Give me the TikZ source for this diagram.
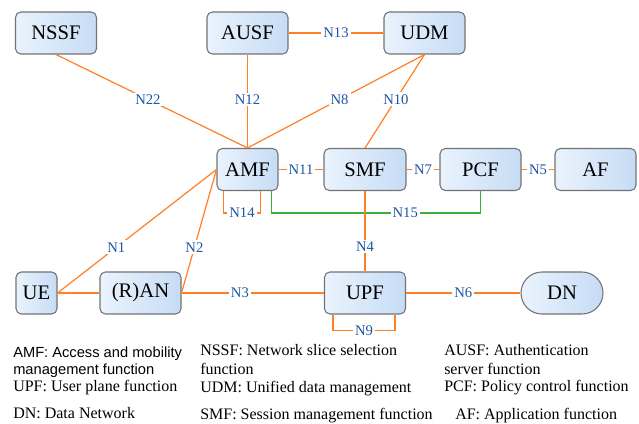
\documentclass[tikz,border=0pt]{standalone}
\usepackage{fontspec}
\setmainfont{Liberation Serif}
\newfontfamily\legsans{Liberation Sans}
\usetikzlibrary{calc}
\definecolor{fillL}{RGB}{234,243,253}
\definecolor{fillR}{RGB}{198,220,245}
\definecolor{edgeO}{RGB}{255,127,39}
\definecolor{edgeG}{RGB}{60,175,60}
\definecolor{lblB}{RGB}{30,85,165}

\begin{document}
\begin{tikzpicture}
  [x=0.75pt,y=-0.75pt,
   funcN/.style={rectangle,rounded corners=4pt,draw=black!55,line width=0.8pt,
                 left color=fillL,right color=fillR,minimum width=60.75pt,
                 minimum height=31.5pt,font=\fontsize{15.5}{18}\selectfont},
   linkE/.style={draw=edgeO,line width=0.9pt},
   ctrlE/.style={draw=edgeG,line width=0.9pt},
   lblN/.style={fill=white,text=lblB,inner sep=1.5pt,font=\fontsize{11}{13}\selectfont},
   legN/.style={anchor=base west,align=left,inner sep=0pt,font=\fontsize{12}{14}\selectfont}]

  \useasboundingbox (0,0) rectangle (639,424);

  \node[funcN]                      (nssf) at (56,33)      {NSSF};
  \node[funcN]                      (ausf) at (247.5,33)   {AUSF};
  \node[funcN]                      (udm)  at (424.5,33)   {UDM};
  \node[funcN,minimum width=45.75pt](amf)  at (247.5,169.5){AMF};
  \node[funcN,minimum width=61.5pt] (smf)  at (365,169.5)  {SMF};
  \node[funcN]                      (pcf)  at (480.5,169.5){PCF};
  \node[funcN]                      (af)   at (595.5,169.5){AF};
  \node[funcN,minimum width=30.75pt](ue)   at (36.5,293)   {UE};
  \node[funcN]                      (ran)  at (140.5,293)  {(R)AN};
  \node[funcN]                      (upf)  at (365,293)    {UPF};
  \node[funcN,rounded corners=15.75pt,minimum width=61.5pt] (dn) at (562,293) {DN};

  \draw[linkE] (nssf.south) -- node[lblN,pos=.48] (n22) {N22} (amf.north);
  \draw[linkE] (ausf.south) -- node[lblN,pos=.48] (n12) {N12} (amf.north);
  \draw[linkE] (udm.south)  -- node[lblN,pos=.48] (n8)  {N8}  (amf.north);
  \draw[linkE] (udm.south)  -- node[lblN,pos=.48] (n10) {N10} (smf.north);
  \draw[linkE] (ausf) -- node[lblN] (n13) {N13} (udm);
  \draw[linkE] (amf)  -- node[lblN] (n11) {N11} (smf);
  \draw[linkE] (smf)  -- node[lblN] (n7)  {N7}  (pcf);
  \draw[linkE] (pcf)  -- node[lblN] (n5)  {N5}  (af);

  \draw[linkE] (ue.east)  -- node[lblN,pos=.37] (n1) {N1} (amf.west);
  \draw[linkE] (ran.east) -- node[lblN,pos=.37] (n2) {N2} (amf.west);
  \draw[linkE] (ue) -- (ran);
  \draw[linkE] (ran) -- node[lblN,pos=.41] (n3) {N3} (upf);
  \draw[linkE] (upf) -- node[lblN] (n6) {N6} (dn);

  % loops under AMF and UPF
  \draw[linkE] ($(amf.south west)+(7,0)$) -- ++(0,22) -- node[lblN] (n14) {N14} ++(37,0) -- ++(0,-22);
  \draw[ctrlE] ($(amf.south east)+(-7,0)$) -- ++(0,22) -| node[lblN,pos=.32] (n15) {N15} (pcf.south);
  \draw[linkE] (smf) -- node[lblN,pos=.69] (n4) {N4} (upf);
  \draw[linkE] ($(upf.south west)+(9,0)$) -- ++(0,16) -- node[lblN] (n9) {N9} ++(62,0) -- ++(0,-16);

  % legend (base = last line)
  \node[legN,font=\legsans\fontsize{11}{12.75}\selectfont] (legamf) at (13,374)
       {AMF: Access and mobility\\management function};
  \node[legN] (legnssf) at (200,374)   {NSSF: Network slice selection\\function};
  \node[legN] (legausf) at (444,374)   {AUSF: Authentication\\server function};
  \node[legN] (legupf)  at (13,391)    {UPF: User plane function};
  \node[legN] (legudm)  at (200,392)   {UDM: Unified data management};
  \node[legN] (legpcf)  at (444,391)   {PCF: Policy control function};
  \node[legN] (legdn)   at (13,418.5)  {DN: Data Network};
  \node[legN] (legsmf)  at (200,419.5) {SMF: Session management function};
  \node[legN] (legaf)   at (455,419)   {AF: Application function};

\end{tikzpicture}
\end{document}
